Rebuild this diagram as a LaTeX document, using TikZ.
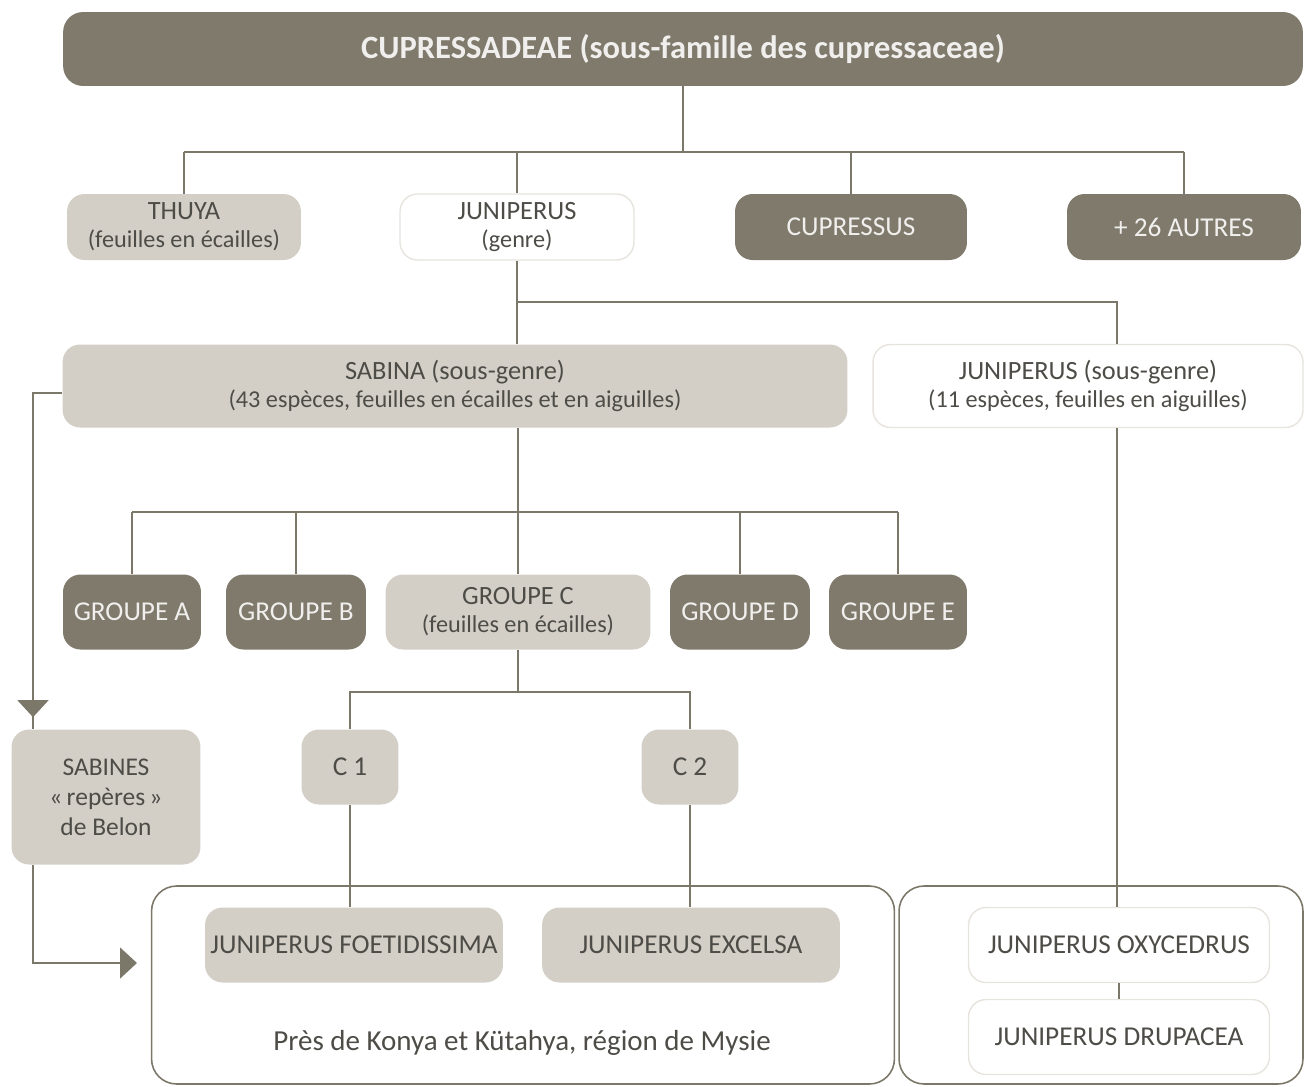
\documentclass[tikz,border=0pt]{standalone}
\usepackage{fontspec}
\setmainfont{Carlito}
\usepackage{xcolor}
\usepackage{tikz}
\usetikzlibrary{arrows.meta,positioning,calc}

\definecolor{taupe}{HTML}{7F7A6B}
\definecolor{pale}{HTML}{D3CFC7}
\definecolor{rim}{HTML}{E7E4DF}
\definecolor{ink}{HTML}{4E4C47}
\definecolor{wire}{HTML}{7C7869}

\newcommand{\headline}[1]{{\fontsize{15}{16}\selectfont #1}}

\begin{document}
\begin{tikzpicture}[
  x=0.02cm, y=-0.02cm,
  box/.style={rounded corners=3.5mm, inner sep=1mm, align=center, font=\fontsize{13.8}{16}\selectfont},
  caps/.style={font=\fontsize{15.5}{18}\selectfont},
  dark/.style={box, fill=taupe, text=white!88!taupe},
  light/.style={box, fill=pale, text=ink},
  blank/.style={box, draw=rim, line width=0.8pt, fill=white, text=ink},
  frame/.style={draw=wire, line width=0.9pt, rounded corners=5mm, inner sep=0pt},
  link/.style={draw=wire, line width=1pt},
  arr/.style={link, -{Triangle[width=6.2mm,length=3.4mm]}}
]
\useasboundingbox (0,0) rectangle (1305,1086);

% family
\node[dark, rounded corners=4mm, minimum width=24.8cm, minimum height=1.48cm,
      font=\fontsize{18.5}{22}\selectfont\bfseries] (family) at (683,49)
  {CUPRESSADEAE (sous-famille des cupressaceae)};

% genera
\node[light, minimum width=4.68cm, minimum height=1.32cm] (thuya) at (184,227)
  {\headline{THUYA}\\(feuilles en écailles)};
\node[blank, minimum width=4.68cm, minimum height=1.32cm] (genre) at (517,227)
  {\headline{JUNIPERUS}\\(genre)};
\node[dark, caps, minimum width=4.64cm, minimum height=1.32cm] (cupressus) at (851,227)
  {CUPRESSUS};
\node[dark, caps, minimum width=4.68cm, minimum height=1.32cm] (autres) at (1184,227)
  {+ 26 AUTRES};

% sub-genera
\node[light, minimum width=15.7cm, minimum height=1.66cm] (sabina) at (455,386)
  {\headline{SABINA (sous-genre)}\\(43 espèces, feuilles en écailles et en aiguilles)};
\node[blank, minimum width=8.6cm, minimum height=1.66cm] (sousgenre) at (1088,386)
  {\headline{JUNIPERUS (sous-genre)}\\(11 espèces, feuilles en aiguilles)};

% groups
\node[dark, caps, minimum width=2.76cm, minimum height=1.5cm] (groupa) at (132,612) {GROUPE A};
\node[dark, caps, minimum width=2.8cm, minimum height=1.5cm] (groupb) at (296,612) {GROUPE B};
\node[light, minimum width=5.3cm, minimum height=1.5cm] (groupc) at (518,612)
  {\headline{GROUPE C}\\(feuilles en écailles)};
\node[dark, caps, minimum width=2.8cm, minimum height=1.5cm] (groupd) at (740,612) {GROUPE D};
\node[dark, caps, minimum width=2.76cm, minimum height=1.5cm] (groupe) at (898,612) {GROUPE E};

% C1 / C2 and Belon
\node[light, caps, minimum width=1.94cm, minimum height=1.5cm] (c1) at (350,767) {C 1};
\node[light, caps, minimum width=1.94cm, minimum height=1.5cm] (c2) at (690,767) {C 2};
\node[light, minimum width=3.78cm, minimum height=2.7cm,
      font=\fontsize{14.5}{17}\selectfont] (sabines) at (106,797)
  {SABINES\\«\,repères\,»\\de Belon};

% bottom frames
\node[frame, minimum width=14.86cm, minimum height=3.96cm] (konya) at (523,985) {};
\node[frame, minimum width=8.08cm, minimum height=3.96cm] (mysie) at (1101,985) {};

\node[light, caps, minimum width=5.96cm, minimum height=1.5cm] (foet) at (354,945)
  {JUNIPERUS FOETIDISSIMA};
\node[light, caps, minimum width=5.96cm, minimum height=1.5cm] (excelsa) at (691,945)
  {JUNIPERUS EXCELSA};
\node[box, text=ink, font=\fontsize{16.5}{19}\selectfont] (place) at (522,1043)
  {Près de Konya et Kütahya, région de Mysie};
\node[blank, caps, minimum width=6.02cm, minimum height=1.5cm] (oxy) at (1119,945)
  {JUNIPERUS OXYCEDRUS};
\node[blank, caps, minimum width=6.02cm, minimum height=1.5cm] (drupacea) at (1119,1037)
  {JUNIPERUS DRUPACEA};

% connectors
\coordinate (hub1) at (683,152);
\draw[link] (family.south) -- (hub1);
\draw[link] (thuya.north |- hub1) -- (autres.north |- hub1);
\foreach \n in {thuya,genre,cupressus,autres}
  \draw[link] (\n.north) -- (\n.north |- hub1);

\coordinate (trunk) at (1117,302);
\draw[link] (genre.south) -- (genre.south |- sabina.north);
\draw[link] (genre.south |- trunk) -- (trunk) -- (trunk |- sousgenre.north);
\draw[link] (trunk |- sousgenre.south) -- (trunk |- oxy.north);
\draw[link] (oxy.south) -- (drupacea.north);

\coordinate (hub3) at (517,512);
\draw[link] (groupc.north |- sabina.south) -- (groupc.north);
\draw[link] (groupa.north |- hub3) -- (groupe.north |- hub3);
\foreach \n in {groupa,groupb,groupd,groupe}
  \draw[link] (\n.north) -- (\n.north |- hub3);

\coordinate (hub4) at (518,692);
\draw[link] (groupc.south) -- (hub4);
\draw[link] (c1.north) |- (hub4) -| (c2.north);
\draw[link] (c1.south) -- (c1.south |- foet.north);
\draw[link] (c2.south) -- (c2.south |- excelsa.north);

% Belon arrows
\coordinate (elbow) at (33,393);
\coordinate (entry) at (137,963);
\draw[link] (sabina.west |- elbow) -- (elbow) -- (elbow |- sabines.north);
\draw[arr, shorten >=0.24cm] (elbow) -- (elbow |- sabines.north);
\draw[arr] (elbow |- sabines.south) |- (entry);

\end{tikzpicture}
\end{document}
